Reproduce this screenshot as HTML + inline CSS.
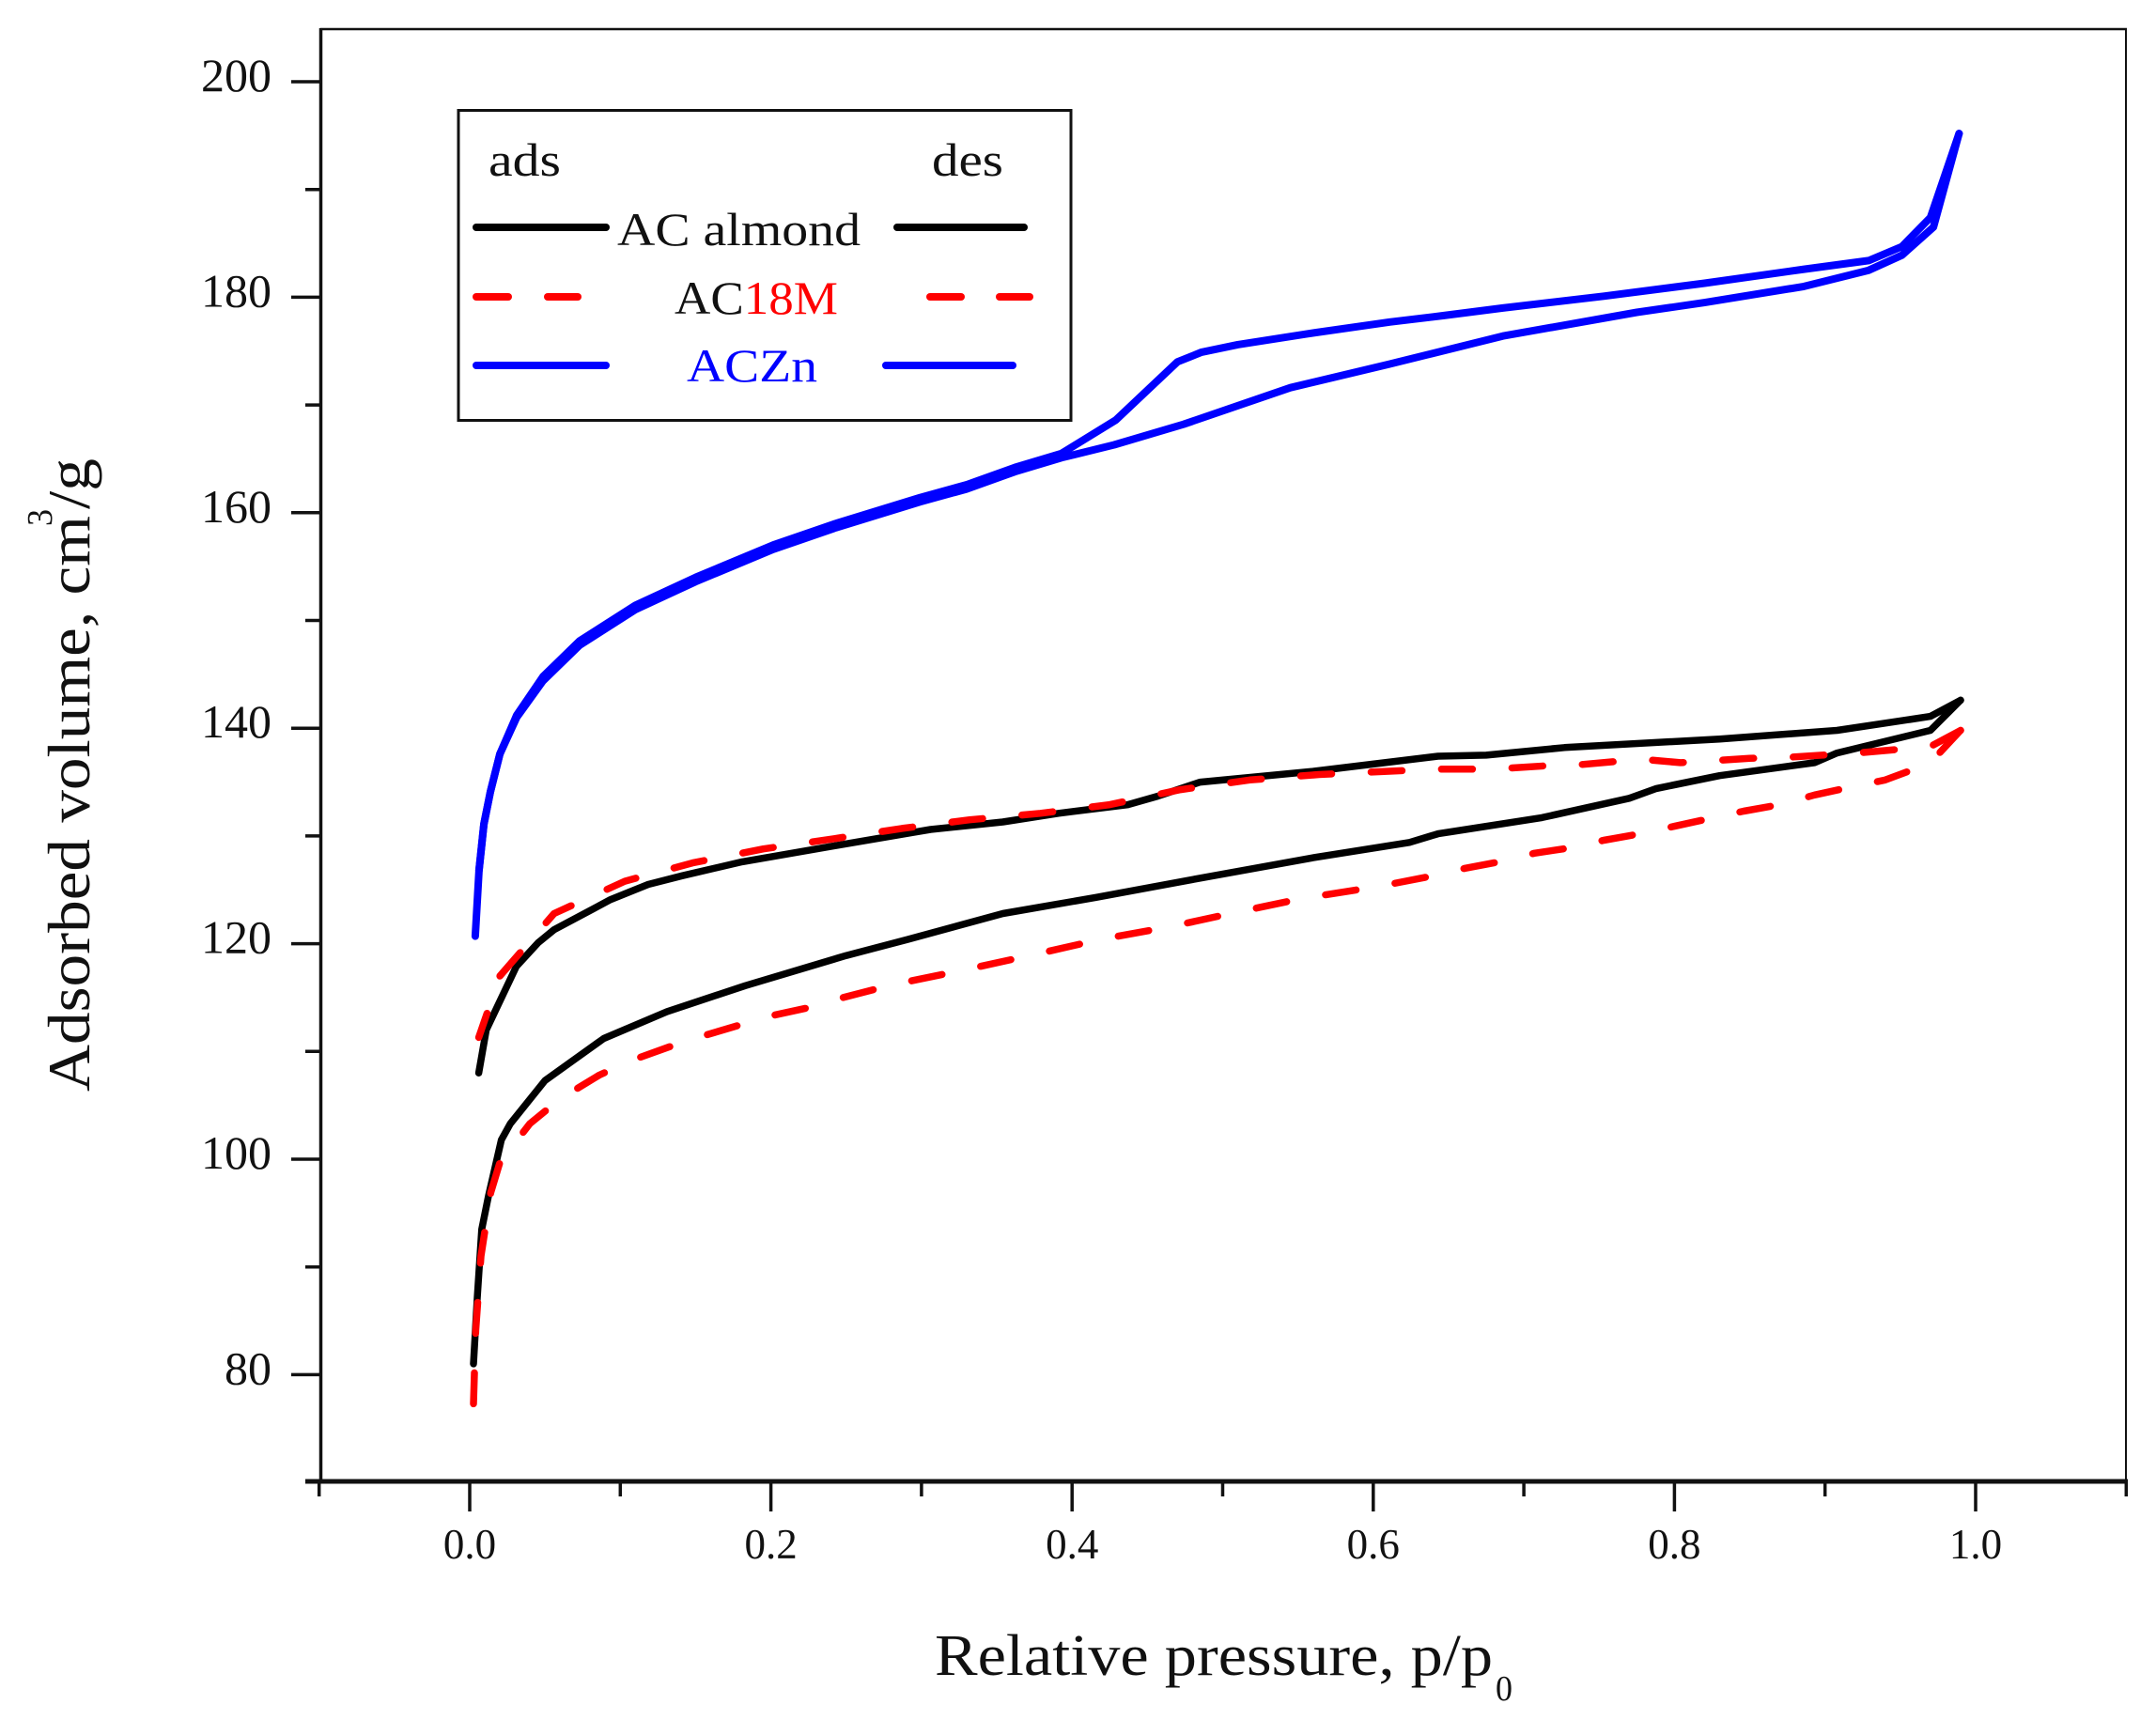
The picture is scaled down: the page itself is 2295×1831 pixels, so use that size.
<!DOCTYPE html>
<html lang="en">
<head>
<meta charset="utf-8">
<title>Adsorption isotherms</title>
<style>
html,body{margin:0;padding:0;background:#fff;}
svg{display:block;}
text{font-family:"Liberation Serif",serif;fill:#111;}
</style>
</head>
<body>
<svg id="chart" xmlns="http://www.w3.org/2000/svg" width="2295" height="1831" viewBox="0 0 2295 1831">
  <rect width="2295" height="1831" fill="#fff"/>
  <g id="axes"></g>
  <g id="series"></g>

  <g>
    <text x="995" y="1783" font-size="62" textLength="594" lengthAdjust="spacingAndGlyphs">Relative pressure, p/p</text>
    <text x="1592" y="1810" font-size="38" textLength="18" lengthAdjust="spacingAndGlyphs">0</text>
  </g>
  <g>
    <text transform="translate(95,1162) rotate(-90)" font-size="64" textLength="613" lengthAdjust="spacingAndGlyphs">Adsorbed volume, cm</text>
    <text transform="translate(55,560) rotate(-90)" font-size="38" textLength="18" lengthAdjust="spacingAndGlyphs">3</text>
    <text transform="translate(95,542) rotate(-90)" font-size="64" textLength="54" lengthAdjust="spacingAndGlyphs">/g</text>
  </g>

  <g>
    <rect x="488" y="117.5" width="652" height="330" fill="#fff" stroke="#111" stroke-width="3"/>
    <text x="520" y="187" font-size="50" textLength="77" lengthAdjust="spacingAndGlyphs">ads</text>
    <text x="992" y="187" font-size="50" textLength="76" lengthAdjust="spacingAndGlyphs">des</text>

    <line x1="507" y1="242" x2="645" y2="242" stroke="#000" stroke-width="8" stroke-linecap="round"/>
    <text x="657" y="261" font-size="50" textLength="259" lengthAdjust="spacingAndGlyphs">AC almond</text>
    <line x1="955" y1="242" x2="1090" y2="242" stroke="#000" stroke-width="8" stroke-linecap="round"/>

    <line x1="507" y1="316" x2="541" y2="316" stroke="#f00" stroke-width="8" stroke-linecap="round"/>
    <line x1="583" y1="316" x2="615" y2="316" stroke="#f00" stroke-width="8" stroke-linecap="round"/>
    <text x="718" y="334" font-size="50" textLength="174" lengthAdjust="spacingAndGlyphs">AC<tspan style="fill:#f00">18M</tspan></text>
    <line x1="990" y1="316" x2="1023" y2="316" stroke="#f00" stroke-width="8" stroke-linecap="round"/>
    <line x1="1064" y1="316" x2="1096" y2="316" stroke="#f00" stroke-width="8" stroke-linecap="round"/>

    <line x1="507" y1="389" x2="645" y2="389" stroke="#00f" stroke-width="8" stroke-linecap="round"/>
    <text x="731" y="406" font-size="50" textLength="139" lengthAdjust="spacingAndGlyphs" style="fill:#00f">ACZn</text>
    <line x1="943" y1="389" x2="1078" y2="389" stroke="#00f" stroke-width="8" stroke-linecap="round"/>
  </g>
</svg>

<script>
// Tick values and labels
const xMajorTicks = [0, 0.2, 0.4, 0.6, 0.8, 1.0];
const xMinorTicks = [-0.1, 0.1, 0.3, 0.5, 0.7, 0.9, 1.1];
const yMajorTicks = [80, 100, 120, 140, 160, 180, 200];
const yMinorTicks = [90, 110, 130, 150, 170, 190];

// AC almond adsorption
const almondAdsP = [0.0025,0.005,0.008,0.0125,0.021,0.027,0.05,0.089,0.131,0.183,0.25,0.291,0.354,0.416,0.478,0.561,0.624,0.643,0.712,0.77,0.788,0.83,0.893,0.908,0.97,0.99];
const almondAdsV = [81,87.1,93.5,96.6,101.8,103.3,107.3,111.2,113.7,116.1,118.9,120.4,122.8,124.3,125.9,128,129.4,130.2,131.7,133.5,134.4,135.6,136.8,137.7,139.8,142.6];
// AC almond desorption
const almondDesP = [0.99,0.97,0.908,0.83,0.727,0.675,0.643,0.56,0.485,0.457,0.437,0.391,0.354,0.306,0.243,0.181,0.141,0.1185,0.0936,0.056,0.0455,0.031,0.011,0.006];
const almondDesV = [142.6,141.1,139.8,139,138.2,137.5,137.4,136,135,133.7,132.9,132.1,131.3,130.6,129.1,127.6,126.3,125.5,124.1,121.3,120.1,117.9,112,108];

// AC18M adsorption
const m18AdsP = [0.0025,0.004,0.0075,0.014,0.02,0.04,0.06,0.086,0.108,0.132,0.154,0.178,0.2,0.223,0.245,0.281,0.326,0.372,0.419,0.466,0.512,0.553,0.603,0.64,0.661,0.684,0.707,0.731,0.753,0.777,0.8,0.823,0.846,0.87,0.893,0.916,0.94,0.963,0.97,0.99];
const m18AdsV = [77.3,84.1,91,96.9,99.7,103.3,105.6,107.8,109.2,110.4,111.4,112.4,113.3,114,114.9,116.2,117.5,118.9,120.4,121.6,123,124.2,125.3,126.3,127,127.6,128.4,128.9,129.6,130.2,130.9,131.6,132.3,132.9,133.8,134.5,135.2,136.4,136.8,139.8];
// AC18M desorption
const m18DesP = [0.99,0.97,0.921,0.875,0.85,0.804,0.78,0.76,0.736,0.714,0.691,0.667,0.644,0.609,0.564,0.518,0.472,0.425,0.379,0.332,0.287,0.24,0.195,0.148,0.103,0.056,0.02,0.006];
const m18DesV = [139.8,138.3,137.7,137.3,137.2,136.8,137.1,136.9,136.6,136.5,136.3,136.2,136.2,136,135.7,135.2,134.3,132.9,132.1,131.5,130.7,129.7,128.8,127.5,125.8,122.8,117,111.3];

// ACZn adsorption
const znAdsP = [0.0037,0.0062,0.0094,0.0137,0.02,0.0312,0.0487,0.073,0.11,0.15,0.2015,0.243,0.299,0.33,0.362,0.393,0.428,0.474,0.545,0.611,0.686,0.775,0.82,0.886,0.929,0.951,0.972,0.989];
const znAdsV = [120.7,126.8,131.1,134.1,137.6,141,144.4,147.7,151,153.6,156.6,158.6,161,162.2,163.8,165.1,166.3,168.2,171.6,173.8,176.4,178.6,179.5,181,182.5,183.9,186.5,195.2];
// ACZn desorption
const znDesP = [0.989,0.97,0.951,0.929,0.886,0.82,0.753,0.686,0.647,0.611,0.556,0.51,0.486,0.47,0.429,0.393,0.362,0.33,0.299,0.243,0.2015,0.15,0.11,0.073,0.0487,0.0312,0.02,0.0137,0.0094,0.0062];
const znDesV = [195.2,187.4,184.7,183.4,182.6,181.3,180.1,179,178.3,177.7,176.6,175.6,174.9,174,168.6,165.5,164.2,162.6,161.4,159,157,154,151.4,148.1,144.8,141.2,137.6,134.1,131.1,126.8];

// Axis functions
function xScale(p) { return 500 + p * 1603; }
function yScale(v) { return 87 + (200 - v) * 11.47; }

const NS = 'http://www.w3.org/2000/svg';
const axes = document.getElementById('axes');
const seriesGroup = document.getElementById('series');

function makeLine(x1, y1, x2, y2, w) {
  const l = document.createElementNS(NS, 'line');
  l.setAttribute('x1', x1);
  l.setAttribute('y1', y1);
  l.setAttribute('x2', x2);
  l.setAttribute('y2', y2);
  l.setAttribute('stroke', '#111');
  l.setAttribute('stroke-width', w);
  return l;
}

const frameTop = makeLine(341, 31, 2264, 31, 2.5);


axes.appendChild(frameTop);

const frameRight = makeLine(2263, 31, 2263, 1578, 2);


axes.appendChild(frameRight);

const yAxisLine = makeLine(341.5, 30, 341.5, 1579, 3.5);


axes.appendChild(yAxisLine);

const xAxisLine = makeLine(325, 1577, 2265, 1577, 5);


axes.appendChild(xAxisLine);

xMajorTicks.forEach(function (t) {
  const tick = makeLine(xScale(t), 1577, xScale(t), 1609, 3.5);
  
  
  axes.appendChild(tick);
  const label = document.createElementNS(NS, 'text');
  
  
  label.setAttribute('x', xScale(t));
  label.setAttribute('y', 1659);
  label.setAttribute('font-size', 45);
  label.setAttribute('text-anchor', 'middle');
  label.textContent = t.toFixed(1);
  axes.appendChild(label);
});

xMinorTicks.forEach(function (t) {
  const tick = makeLine(xScale(t), 1577, xScale(t), 1593, 3.5);
  
  
  axes.appendChild(tick);
});

yMajorTicks.forEach(function (t) {
  const tick = makeLine(310, yScale(t), 342, yScale(t), 3.5);
  
  
  axes.appendChild(tick);
  const label = document.createElementNS(NS, 'text');
  
  
  label.setAttribute('x', 289);
  label.setAttribute('y', yScale(t) + 10);
  label.setAttribute('font-size', 50);
  label.setAttribute('text-anchor', 'end');
  label.textContent = String(t);
  axes.appendChild(label);
});

yMinorTicks.forEach(function (t) {
  const tick = makeLine(325, yScale(t), 342, yScale(t), 3.5);
  
  
  axes.appendChild(tick);
});

function makeSeries(ps, vs, color, width, dashed) {
  const path = document.createElementNS(NS, 'path');
  let d = '';
  for (let i = 0; i < ps.length; i++) {
    d += (i ? 'L' : 'M') + xScale(ps[i]).toFixed(1) + ' ' + yScale(vs[i]).toFixed(1);
  }
  path.setAttribute('d', d);
  path.setAttribute('fill', 'none');
  path.setAttribute('stroke', color);
  path.setAttribute('stroke-width', width);
  path.setAttribute('stroke-linecap', 'round');
  path.setAttribute('stroke-linejoin', 'round');
  if (dashed) path.setAttribute('stroke-dasharray', '33 42');
  return path;
}

const znAdsLine = makeSeries(znAdsP, znAdsV, '#0000ff', 8, false);


seriesGroup.appendChild(znAdsLine);

const znDesLine = makeSeries(znDesP, znDesV, '#0000ff', 8, false);


seriesGroup.appendChild(znDesLine);

const almondAdsLine = makeSeries(almondAdsP, almondAdsV, '#000000', 7.5, false);


seriesGroup.appendChild(almondAdsLine);

const almondDesLine = makeSeries(almondDesP, almondDesV, '#000000', 7.5, false);


seriesGroup.appendChild(almondDesLine);

const m18AdsLine = makeSeries(m18AdsP, m18AdsV, '#ff0000', 7.5, true);


seriesGroup.appendChild(m18AdsLine);

const m18DesLine = makeSeries(m18DesP, m18DesV, '#ff0000', 7.5, true);


seriesGroup.appendChild(m18DesLine);
</script>
</body>
</html>
